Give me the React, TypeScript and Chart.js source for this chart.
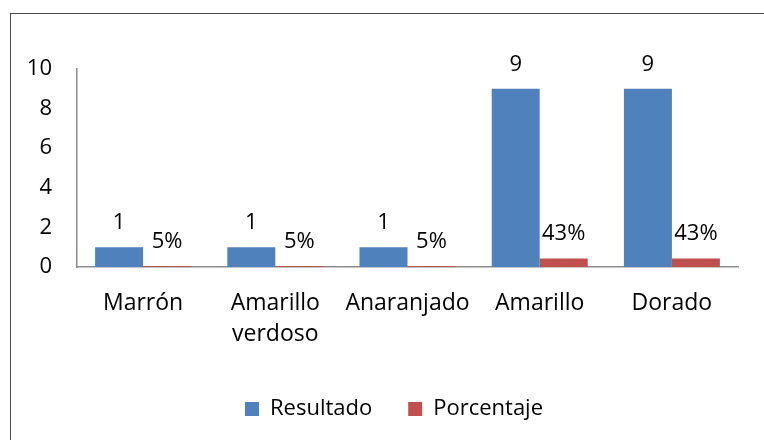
import React, { useEffect, useRef } from "react";
import { Chart, registerables } from "chart.js";

Chart.register(...registerables);

const categories: string[][] = [["Marrón"], ["Amarillo", "verdoso"], ["Anaranjado"], ["Amarillo"], ["Dorado"]];
const resultado: number[] = [1, 1, 1, 9, 9];
const porcentaje: number[] = [0.05, 0.05, 0.05, 0.43, 0.43];
const seriesNames: string[] = ["Resultado", "Porcentaje"];
const yMin = 0;
const yMax = 10;
const yStep = 2;

const FONT_FAMILY = "'Open Sans', sans-serif";

const valueLabels = {
  id: "valueLabels",
  afterDatasetsDraw(chart: any) {
    const ctx = chart.ctx;
    ctx.save();
    ctx.font = `22px ${FONT_FAMILY}`;
    ctx.fillStyle = "#000";
    ctx.textAlign = "center";
    ctx.textBaseline = "alphabetic";
    chart.data.datasets.forEach((ds: any, i: number) => {
      const meta = chart.getDatasetMeta(i);
      meta.data.forEach((el: any, j: number) => {
        const v = ds.data[j] as number;
        const txt = i === 0 ? String(v) : Math.round(v * 100) + "%";
        ctx.fillText(txt, el.x, el.y - 18);
      });
    });
    ctx.restore();
  },
};

// Shift the legend box horizontally so it is centred like the original.
const legendShift = {
  id: "legendShift",
  afterLayout(chart: any) {
    const lg = chart.legend;
    if (lg) {
      lg.left += 20;
      lg.right += 20;
    }
  },
};

export default function App() {
  const ref = useRef<HTMLCanvasElement | null>(null);

  useEffect(() => {
    if (!ref.current) return;
    const chart = new Chart(ref.current, {
      type: "bar",
      data: {
        labels: categories,
        datasets: [
          {
            label: seriesNames[0],
            data: resultado,
            backgroundColor: "#4F81BD",
            borderWidth: 0,
          },
          {
            label: seriesNames[1],
            data: porcentaje,
            backgroundColor: "#C0504D",
            borderWidth: 0,
          },
        ],
      },
      options: {
        responsive: false,
        animation: false,
        devicePixelRatio: 1,
        layout: { padding: { top: 69, left: 10, right: 26, bottom: 10 } },
        datasets: {
          bar: { categoryPercentage: 0.726, barPercentage: 1 },
        },
        scales: {
          x: {
            grid: { display: false, drawTicks: false },
            border: { display: true, color: "#8C8C8C", width: 1.5 },
            ticks: {
              color: "#000",
              padding: 21,
              maxRotation: 0,
              autoSkip: false,
              font: { family: FONT_FAMILY, size: 23, lineHeight: 1.35 },
            },
            afterFit: (scale: any) => {
              scale.height = 95;
            },
          },
          y: {
            min: yMin,
            max: yMax,
            grid: { display: false, drawTicks: false },
            border: { display: true, color: "#8C8C8C", width: 1.5 },
            ticks: {
              stepSize: yStep,
              color: "#000",
              padding: 25,
              font: { family: FONT_FAMILY, size: 22 },
            },
            afterFit: (scale: any) => {
              scale.width = 67;
            },
          },
        },
        plugins: {
          legend: {
            position: "bottom",
            labels: {
              boxWidth: 14,
              boxHeight: 14,
              padding: 36,
              color: "#000",
              font: { family: FONT_FAMILY, size: 22 },
            },
          },
          tooltip: { enabled: false },
        },
      },
      plugins: [valueLabels, legendShift],
    });
    return () => chart.destroy();
  }, []);

  return (
    <div style={{ position: "absolute", left: 0, top: 0, width: 764, height: 440, background: "#fff", overflow: "hidden" }}>
      <canvas ref={ref} width={764} height={440} style={{ position: "absolute", left: 0, top: 0 }} />
      <div
        style={{
          position: "absolute",
          left: 10,
          top: 13,
          width: 780,
          height: 460,
          border: "1px solid #4A4A4A",
          pointerEvents: "none",
        }}
      />
    </div>
  );
}
